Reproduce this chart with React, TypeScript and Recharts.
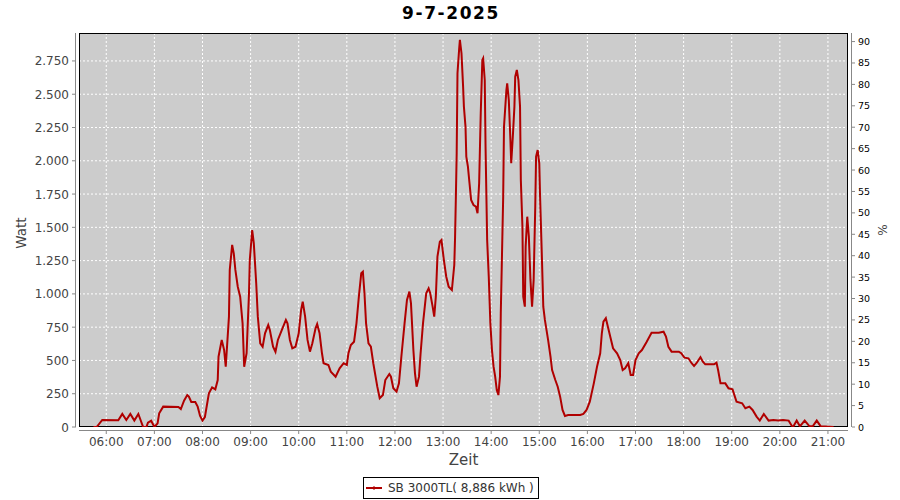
import React from 'react';
import * as RC from 'recharts';
import { LineChart, Line, XAxis, YAxis, CartesianGrid, Legend } from 'recharts';

const chartTitle = '9-7-2025';
const seriesName = 'SB 3000TL( 8,886 kWh )';

// minutes since midnight
const times = [
  344, 348, 355, 375, 380, 385, 390, 395, 400, 406, 410, 412, 416, 420, 424, 426, 431, 450, 453, 457,
  461, 463, 466, 471, 474, 477, 480, 483, 488, 492, 496, 499, 500, 504, 507, 509, 513, 514, 517, 519,
  521, 524, 527, 530, 532, 535, 538, 539, 542, 544, 547, 549, 552, 555, 558, 562, 564, 568, 571, 574,
  579, 584, 586, 589, 592, 596, 600, 603, 605, 608, 611, 614, 617, 621, 623, 626, 629, 631, 637, 640,
  646, 651, 656, 660, 662, 665, 669, 672, 675, 678, 680, 682, 684, 687, 690, 693, 698, 701, 705, 708,
  713, 715, 718, 722, 725, 728, 732, 735, 738, 740, 743, 745, 747, 750, 752, 755, 759, 762, 764, 767,
  769, 771, 773, 776, 778, 781, 784, 787, 791, 794, 795, 796, 797, 798, 800, 801, 803, 805, 806, 808,
  809, 811, 813, 815, 818, 821, 823, 825, 827, 829, 830, 832, 833, 835, 837, 839, 841, 843, 845, 847,
  849, 851, 852, 855, 856, 859, 860, 862, 864, 865, 867, 869, 870, 872, 874, 876, 877, 879, 880, 882,
  883, 885, 887, 889, 891, 893, 895, 896, 898, 900, 901, 903, 905, 907, 909, 911, 914, 916, 920, 923,
  926, 929, 932, 936, 951, 955, 959, 963, 968, 972, 976, 978, 980, 983, 986, 989, 992, 997, 1001, 1004,
  1007, 1011, 1014, 1017, 1020, 1024, 1028, 1034, 1040, 1049, 1055, 1058, 1061, 1065, 1074, 1077, 1081, 1086, 1090, 1093,
  1096, 1101, 1104, 1107, 1118, 1121, 1123, 1126, 1132, 1136, 1141, 1146, 1153, 1157, 1162, 1166, 1171, 1175, 1180, 1186,
  1192, 1198, 1204, 1211, 1215, 1217, 1221, 1225, 1231, 1237, 1241, 1246, 1251, 1267,
];

const watts = [
  0, 0, 53, 50, 98, 53, 98, 48, 98, 0, 0, 32, 47, 0, 27, 103, 153, 150, 135, 198,
  240, 228, 188, 188, 153, 83, 48, 75, 253, 298, 283, 353, 528, 654, 578, 453, 829, 1180, 1368, 1305,
  1180, 1054, 979, 779, 453, 554, 1005, 1255, 1480, 1380, 1080, 829, 629, 603, 704, 766, 729, 603, 565, 654,
  729, 804, 779, 654, 591, 603, 704, 879, 942, 829, 654, 566, 629, 742, 774, 704, 554, 479, 466, 416,
  378, 441, 479, 466, 554, 616, 641, 779, 979, 1155, 1167, 1005, 779, 629, 603, 479, 303, 216, 240, 353,
  398, 378, 291, 266, 328, 528, 779, 954, 1017, 929, 578, 403, 303, 378, 554, 779, 1005, 1042, 1005, 904,
  829, 979, 1280, 1392, 1405, 1255, 1129, 1054, 1029, 1217, 1430, 1731, 2057, 2658, 2833, 2908, 2808, 2557, 2407, 2256,
  2031, 1956, 1831, 1706, 1668, 1656, 1606, 1831, 2357, 2758, 2770, 2607, 2106, 1405, 1129, 779, 578, 453, 378, 278,
  240, 378, 854, 1731, 2256, 2532, 2582, 2457, 2156, 1981, 2181, 2407, 2632, 2683, 2607, 2407, 1856, 1505, 979, 904,
  1355, 1580, 1430, 1105, 904, 1105, 1656, 2031, 2081, 1981, 1731, 1330, 904, 804, 729, 654, 528, 428, 353, 303,
  228, 128, 83, 90, 90, 98, 128, 190, 328, 453, 554, 704, 791, 817, 742, 666, 591, 554, 503, 428,
  441, 479, 391, 391, 503, 554, 578, 641, 708, 708, 716, 679, 603, 566, 566, 554, 521, 516, 479, 458,
  479, 524, 491, 471, 471, 483, 428, 328, 328, 291, 283, 190, 178, 141, 153, 128, 78, 48, 98, 48,
  52, 48, 52, 48, 8, 5, 48, 5, 48, 5, 5, 48, 5, 0,
];

const xTickMinutes = [360, 420, 480, 540, 600, 660, 720, 780, 840, 900, 960, 1020, 1080, 1140, 1200, 1260];
const xTickLabels = ['06:00', '07:00', '08:00', '09:00', '10:00', '11:00', '12:00', '13:00', '14:00', '15:00', '16:00', '17:00', '18:00', '19:00', '20:00', '21:00'];
const wattTicks = [0, 250, 500, 750, 1000, 1250, 1500, 1750, 2000, 2250, 2500, 2750];
const pctTicks = [0, 5, 10, 15, 20, 25, 30, 35, 40, 45, 50, 55, 60, 65, 70, 75, 80, 85, 90];

const data = times.map((t, i) => ({ t, w: watts[i] }));

const FONT = '"DejaVu Sans", sans-serif';
const RED = '#B00000';

const fmtWatt = (v: number) => String(v).replace(/\B(?=(\d{3})+(?!\d))/g, '.');
const fmtTime = (v: number) => {
  const i = xTickMinutes.indexOf(v);
  return i >= 0 ? xTickLabels[i] : '';
};

const XTick = (props: any) => {
  const { x, y, payload } = props;
  return (
    <g>
      <line x1={x} x2={x} y1={y + 4} y2={y + 7} stroke="#888" />
      <text x={x} y={y + 19} textAnchor="middle" fontFamily={FONT} fontSize={12} fill="#444">
        {fmtTime(payload.value)}
      </text>
    </g>
  );
};

const LeftTick = (props: any) => {
  const { x, y, payload } = props;
  return (
    <g>
      <line x1={x - 7} x2={x - 3} y1={y} y2={y} stroke="#888" />
      <text x={x - 10} y={y + 4.5} textAnchor="end" fontFamily={FONT} fontSize={12} fill="#444">
        {fmtWatt(payload.value)}
      </text>
    </g>
  );
};

const RightTick = (props: any) => {
  const { x, y, payload } = props;
  return (
    <g>
      <line x1={x + 4} x2={x + 7} y1={y} y2={y} stroke="#888" />
      <text x={x + 10} y={y + 3.5} textAnchor="start" fontFamily={FONT} fontSize={9.5} fill="#000">
        {payload.value}
      </text>
    </g>
  );
};

function Frame() {
  const hook = (RC as any).usePlotArea || (RC as any).useOffset;
  const pa = hook ? hook() : null;
  if (!pa) return null;
  const x = pa.x !== undefined ? pa.x : pa.left;
  const y = pa.y !== undefined ? pa.y : pa.top;
  const w = pa.width;
  const h = pa.height;
  if (x === undefined || w === undefined) return null;
  return (
    <g>
      <rect x={x + 0.5} y={y + 0.5} width={w - 1} height={h - 1} fill="none" stroke="#000" strokeWidth={1} />
      <line x1={x - 3.5} x2={x - 3.5} y1={y} y2={y + h} stroke="#888" />
      <line x1={x + w + 3.5} x2={x + w + 3.5} y1={y} y2={y + h} stroke="#888" />
      <line x1={x} x2={x + w} y1={y + h + 3.5} y2={y + h + 3.5} stroke="#888" />
      <text x={x + w / 2} y={y + h + 38} textAnchor="middle" fontFamily={FONT} fontSize={15} fill="#444">Zeit</text>
      <text x={26} y={y + h / 2 + 3} transform={`rotate(-90, 26, ${y + h / 2 + 3})`} textAnchor="middle" fontFamily={FONT} fontSize={13.5} fill="#444">Watt</text>
      <text x={887} y={y + h / 2} transform={`rotate(-90, 887, ${y + h / 2})`} textAnchor="middle" fontFamily={FONT} fontSize={12} fill="#444">%</text>
    </g>
  );
}

const LegendContent = (props: any) => {
  const item = (props.payload || []).find((p: any) => p.type !== 'none');
  return (
    <div
      style={{
        boxSizing: 'border-box',
        width: 176,
        height: 22,
        border: '1px solid #000',
        background: '#fff',
        display: 'flex',
        alignItems: 'center',
        fontFamily: FONT,
        fontSize: 12,
        color: '#333',
        whiteSpace: 'nowrap',
      }}
    >
      <svg width={20} height={10} style={{ marginLeft: 2, marginRight: 2 }}>
        <line x1={0} x2={16} y1={5} y2={5} stroke={RED} strokeWidth={2} />
        <line x1={8} x2={8} y1={3.5} y2={6.5} stroke={RED} strokeWidth={2} />
      </svg>
      <span>{item ? item.value : seriesName}</span>
    </div>
  );
};

export default function App() {
  return (
    <div style={{ position: 'absolute', left: 0, top: 0, width: 900, height: 500, background: '#fff' }}>
      <LineChart width={900} height={500} data={data} margin={{ top: 33, right: 0, left: 0, bottom: 0 }}>
        <text x={451} y={19} textAnchor="middle" fontFamily={FONT} fontSize={17} fontWeight="bold" letterSpacing={1.6} fill="#000">
          {chartTitle}
        </text>
        <CartesianGrid yAxisId="left" fill="#CCCCCC" stroke="#ffffff" strokeDasharray="2 2" />
        <XAxis
          dataKey="t"
          type="number"
          domain={[326, 1285]}
          ticks={xTickMinutes}
          allowDataOverflow
          height={73}
          tickSize={0}
          tickMargin={0}
          axisLine={false}
          tickLine={false}
          tick={<XTick />}
          interval={0}
        />
        <YAxis
          yAxisId="left"
          orientation="left"
          width={79}
          domain={[0, 2960]}
          ticks={wattTicks}
          allowDataOverflow
          tickSize={0}
          tickMargin={0}
          axisLine={false}
          tickLine={false}
          tick={<LeftTick />}
          interval={0}
        />
        <YAxis
          yAxisId="right"
          orientation="right"
          width={52}
          domain={[0, 92]}
          ticks={pctTicks}
          allowDataOverflow
          tickSize={0}
          tickMargin={0}
          axisLine={false}
          tickLine={false}
          tick={<RightTick />}
          interval={0}
        />
        <Line
          yAxisId="left"
          type="linear"
          dataKey="w"
          name={seriesName}
          stroke={RED}
          strokeWidth={2}
          dot={false}
          activeDot={false}
          isAnimationActive={false}
        />
        <Line
          yAxisId="right"
          type="linear"
          dataKey="pct"
          name="pct"
          stroke="none"
          dot={false}
          legendType="none"
          isAnimationActive={false}
        />
        <Legend
          layout="horizontal"
          verticalAlign="middle"
          align="center"
          content={<LegendContent />}
          wrapperStyle={{ left: 363, top: 477, width: 176, height: 22 }}
        />
        <Frame />
      </LineChart>
    </div>
  );
}
